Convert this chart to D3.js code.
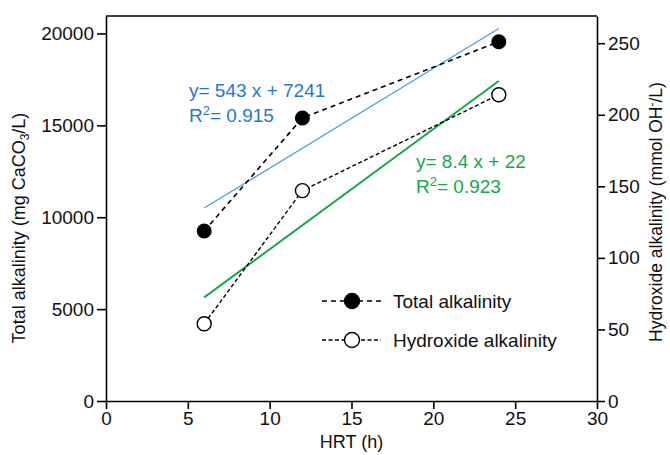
<!DOCTYPE html>
<html>
<head>
<meta charset="utf-8">
<script src="https://cdn.jsdelivr.net/npm/d3@7"></script>
<style>
  body { margin: 0; background: #fff; }
  text { font-family: "Liberation Sans", Arial, sans-serif; }
</style>
</head>
<body>
<div id="main"></div>
<script>
const ctx = { w: 670, h: 455 };

// data
const hrt = [6, 12, 24];
const totalAlk = [9250, 15400, 19550];      // mg CaCO3/L (left axis)
const hydroxideAlk = [54, 147, 214];        // mmol OH-/L (right axis)
const xTicks = [0, 5, 10, 15, 20, 25, 30];
const yLeftTicks = [0, 5000, 10000, 15000, 20000];
const yRightTicks = [0, 50, 100, 150, 200, 250];
const fitTotal = { slope: 543, icpt: 7241, r2: "0.915" };
const fitHydro = { slope: 8.4, icpt: 22, r2: "0.923" };

const m = { l: 106, r: 597, t: 16, b: 401 };
const blue = "#1f78d1", green = "#16a84a";

const svg = d3.select("#main").append("svg")
  .attr("width", ctx.w).attr("height", ctx.h);

const x = d3.scaleLinear().domain([0, 30]).range([m.l, m.r]);
const yL = d3.scaleLinear().domain([0, 20950]).range([m.b, m.t]);
const yR = d3.scaleLinear().domain([0, 269]).range([m.b, m.t]);

// axes
function styleAxis(g) {
  g.selectAll("path").attr("stroke", "#000").attr("stroke-width", 1.6);
  g.selectAll("line").attr("stroke", "#000").attr("stroke-width", 1.6);
  g.selectAll("text").attr("font-size", 19).attr("fill", "#111")
    .style("font-family", "'Liberation Sans', Arial, sans-serif");
}
const fmt = d3.format("d");

svg.append("g").attr("transform", `translate(0,${m.b})`)
  .call(d3.axisBottom(x).tickValues(xTicks).tickFormat(fmt).tickSize(8).tickPadding(3).tickSizeOuter(0))
  .call(styleAxis);
svg.append("g").attr("transform", `translate(${m.l},0)`)
  .call(d3.axisLeft(yL).tickValues(yLeftTicks).tickFormat(fmt).tickSize(9).tickPadding(3).tickSizeOuter(0))
  .call(styleAxis);
svg.append("g").attr("transform", `translate(${m.r},0)`)
  .call(d3.axisRight(yR).tickValues(yRightTicks).tickFormat(fmt).tickSize(8).tickPadding(3).tickSizeOuter(0))
  .call(styleAxis);
// top border
svg.append("line")
  .attr("x1", m.l).attr("x2", m.r).attr("y1", m.t).attr("y2", m.t)
  .attr("stroke", "#000").attr("stroke-width", 1.6);

// fit lines
svg.append("line")
  .attr("x1", x(6)).attr("y1", yL(fitTotal.slope * 6 + fitTotal.icpt))
  .attr("x2", x(24)).attr("y2", yL(fitTotal.slope * 24 + fitTotal.icpt))
  .attr("stroke", "#4a9be3").attr("stroke-width", 1.2);
svg.append("line")
  .attr("x1", x(6)).attr("y1", yR(fitHydro.slope * 6 + fitHydro.icpt))
  .attr("x2", x(24)).attr("y2", yR(fitHydro.slope * 24 + fitHydro.icpt))
  .attr("stroke", green).attr("stroke-width", 2);

// series lines
const lineT = d3.line().x((d, i) => x(hrt[i])).y(d => yL(d));
const lineH = d3.line().x((d, i) => x(hrt[i])).y(d => yR(d));
svg.append("path").datum(totalAlk).attr("d", lineT)
  .attr("fill", "none").attr("stroke", "#000").attr("stroke-width", 1.6)
  .attr("stroke-dasharray", "5,4");
svg.append("path").datum(hydroxideAlk).attr("d", lineH)
  .attr("fill", "none").attr("stroke", "#000").attr("stroke-width", 1.4)
  .attr("stroke-dasharray", "4,2.5");

svg.selectAll(".tot").data(totalAlk).enter().append("circle")
  .attr("cx", (d, i) => x(hrt[i])).attr("cy", d => yL(d)).attr("r", 7.5)
  .attr("fill", "#000");
svg.selectAll(".hyd").data(hydroxideAlk).enter().append("circle")
  .attr("cx", (d, i) => x(hrt[i])).attr("cy", d => yR(d)).attr("r", 7)
  .attr("fill", "#fff").attr("stroke", "#000").attr("stroke-width", 1.4);

// equations
function eq(px, py, color, fit) {
  const g = svg.append("g").attr("fill", color).attr("font-size", 19);
  g.append("text").attr("x", px).attr("y", py)
    .text(`y= ${fit.slope} x + ${fit.icpt}`);
  const t = g.append("text").attr("x", px).attr("y", py + 25);
  t.append("tspan").text("R");
  t.append("tspan").attr("dy", -7).attr("font-size", 13).text("2");
  t.append("tspan").attr("dy", 7).text(`= ${fit.r2}`);
}
eq(189, 97, blue, fitTotal);
eq(416, 168, green, fitHydro);

// legend
const leg = [
  { y: 301, fill: "#000", dash: "5,4", label: "Total alkalinity" },
  { y: 340, fill: "#fff", dash: "4,2.5", label: "Hydroxide alkalinity" }
];
leg.forEach(d => {
  svg.append("line").attr("x1", 322).attr("x2", 381).attr("y1", d.y).attr("y2", d.y)
    .attr("stroke", "#000").attr("stroke-width", 1.4).attr("stroke-dasharray", d.dash);
  svg.append("circle").attr("cx", 352).attr("cy", d.y).attr("r", 7.5)
    .attr("fill", d.fill).attr("stroke", "#000").attr("stroke-width", 1.4);
  svg.append("text").attr("x", 393).attr("y", d.y + 7).attr("font-size", 19)
    .attr("fill", "#111").text(d.label);
});

// axis titles
svg.append("text").attr("x", (m.l + m.r) / 2).attr("y", 448)
  .attr("text-anchor", "middle").attr("font-size", 18).attr("fill", "#111")
  .text("HRT (h)");

const tl = svg.append("text")
  .attr("transform", `translate(25,228) rotate(-90)`)
  .attr("text-anchor", "middle").attr("font-size", 18).attr("fill", "#111");
tl.append("tspan").text("Total alkalinity  (mg CaCO");
tl.append("tspan").attr("dy", 4).attr("font-size", 12).text("3");
tl.append("tspan").attr("dy", -4).text("/L)");

const tr = svg.append("text")
  .attr("transform", `translate(662,212) rotate(-90)`)
  .attr("text-anchor", "middle").attr("font-size", 17.5).attr("fill", "#111");
tr.append("tspan").text("Hydroxide alkalinity  (mmol OH");
tr.append("tspan").attr("dy", -6).attr("font-size", 12).text("-");
tr.append("tspan").attr("dy", 6).text("/L)");
</script>
</body>
</html>
